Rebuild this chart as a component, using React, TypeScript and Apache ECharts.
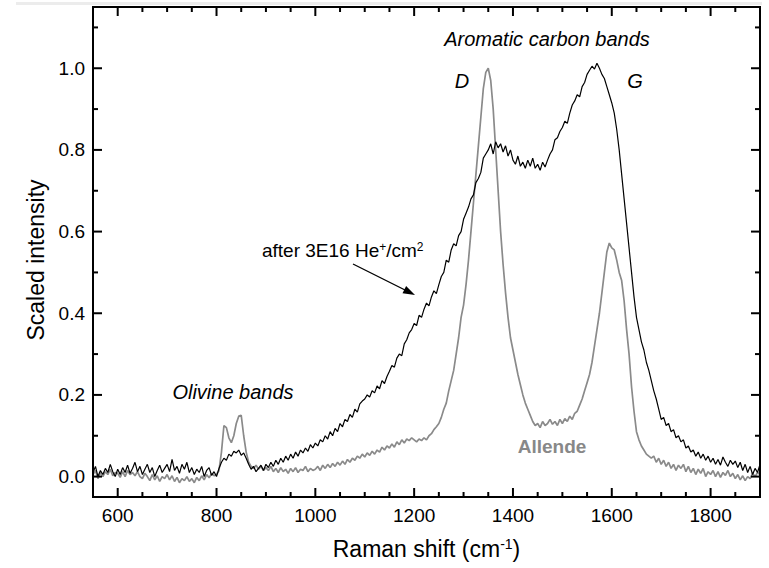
import React, { useEffect, useRef } from "react";
import * as echarts from "echarts";

// Raman shift grid (cm^-1): first point and spacing of the sampled spectra
const RAMAN_START = 550;
const RAMAN_STEP = 5;

// Scaled intensity after 3E16 He+/cm2 irradiation (black)
const IRRADIATED = [
  0.01, 0.025, 0.0, 0.015, 0.005, 0.02, 0.01, 0.03, 0.012, 0.0,
  0.018, 0.005, 0.022, 0.01, 0.028, 0.008, 0.02, 0.035, 0.012, 0.025,
  0.005, 0.018, 0.03, 0.01, 0.022, 0.0, 0.015, 0.028, 0.01, 0.02,
  0.03, 0.012, 0.042, 0.015, 0.025, 0.008, 0.03, 0.018, 0.035, 0.01,
  0.022, 0.005, 0.018, 0.01, 0.025, 0.0, 0.015, 0.022, 0.003, 0.012,
  0.0, 0.02, 0.035, 0.045, 0.04, 0.055, 0.05, 0.062, 0.058, 0.065,
  0.052, 0.058, 0.045, 0.03, 0.018, 0.025, 0.012, 0.02, 0.028, 0.015,
  0.03, 0.022, 0.035, 0.025, 0.04, 0.03, 0.045, 0.035, 0.05, 0.04,
  0.055, 0.045, 0.06, 0.05, 0.065, 0.058, 0.07, 0.062, 0.078, 0.07,
  0.082, 0.075, 0.09, 0.085, 0.1, 0.092, 0.11, 0.1, 0.118, 0.11,
  0.13, 0.122, 0.14, 0.135, 0.152, 0.145, 0.165, 0.158, 0.178, 0.185,
  0.19, 0.2, 0.195, 0.21, 0.205, 0.222, 0.215, 0.235, 0.228, 0.245,
  0.258, 0.272, 0.268, 0.29, 0.3, 0.296, 0.325, 0.335, 0.352, 0.36,
  0.375, 0.37, 0.395, 0.39, 0.41, 0.425, 0.418, 0.44, 0.455, 0.448,
  0.47, 0.49, 0.5, 0.53, 0.525, 0.555, 0.57, 0.565, 0.59, 0.6,
  0.63, 0.645, 0.66, 0.68, 0.69, 0.72, 0.73, 0.745, 0.78, 0.79,
  0.8, 0.815, 0.79, 0.82, 0.805, 0.815, 0.795, 0.81, 0.785, 0.8,
  0.775, 0.765, 0.785, 0.76, 0.77, 0.755, 0.775, 0.76, 0.78, 0.755,
  0.765, 0.75, 0.77, 0.758, 0.775, 0.79, 0.8, 0.825, 0.83, 0.845,
  0.855, 0.87, 0.865, 0.89, 0.91, 0.92, 0.935, 0.93, 0.955, 0.965,
  0.985, 0.995, 1.005, 0.998, 1.012, 1.0, 0.985, 0.975, 0.955, 0.935,
  0.915, 0.89, 0.85, 0.8, 0.74, 0.68, 0.62, 0.56, 0.5, 0.44,
  0.39, 0.36, 0.33, 0.31, 0.28, 0.26, 0.235, 0.21, 0.19, 0.165,
  0.14, 0.145, 0.125, 0.13, 0.11, 0.115, 0.095, 0.1, 0.085, 0.09,
  0.07, 0.075, 0.06, 0.065, 0.05, 0.06, 0.045, 0.055, 0.04, 0.05,
  0.035, 0.045, 0.03, 0.042, 0.028, 0.048, 0.035, 0.025, 0.04, 0.03,
  0.038, 0.022, 0.035, 0.015, 0.03, 0.01, 0.025, 0.005, 0.02, 0.01,
  0.03,
];

// Scaled intensity of pristine Allende (grey)
const ALLENDE = [
  0.005, 0.015, -0.005, 0.01, 0.0, 0.012, 0.005, 0.018, 0.002, 0.01,
  0.008, -0.002, 0.012, 0.0, 0.015, 0.005, 0.01, 0.002, 0.012, 0.0,
  -0.005, 0.008, 0.0, -0.01, 0.005, -0.008, 0.002, -0.012, 0.0, -0.005,
  0.005, -0.008, 0.002, -0.012, -0.002, -0.015, -0.005, -0.01, 0.0, -0.012,
  -0.005, -0.015, -0.002, -0.01, 0.002, -0.008, 0.005, -0.003, 0.008, 0.002,
  0.005, 0.015, 0.06, 0.125, 0.12, 0.095, 0.083, 0.1, 0.13, 0.148,
  0.15, 0.1, 0.06, 0.035, 0.025, 0.02, 0.028, 0.018, 0.025, 0.015,
  0.022, 0.015, 0.025, 0.012, 0.02, 0.01, 0.022, 0.012, 0.018, 0.008,
  0.02, 0.012, 0.022, 0.01, 0.018, 0.015, 0.025, 0.012, 0.02, 0.015,
  0.018, 0.025, 0.015, 0.028, 0.02, 0.03, 0.022, 0.032, 0.025, 0.035,
  0.028, 0.038, 0.03, 0.042, 0.035, 0.045, 0.04, 0.05, 0.045, 0.055,
  0.048, 0.058, 0.052, 0.062, 0.055, 0.065, 0.06, 0.072, 0.065, 0.075,
  0.07, 0.08, 0.072, 0.085, 0.078, 0.09, 0.082, 0.092, 0.088, 0.095,
  0.09, 0.085, 0.092, 0.088, 0.095, 0.09, 0.1, 0.105, 0.115, 0.122,
  0.13, 0.145, 0.165, 0.18, 0.21, 0.235, 0.26, 0.3, 0.34, 0.39,
  0.42, 0.47, 0.53, 0.6, 0.67, 0.74, 0.81, 0.88, 0.95, 0.99,
  1.0, 0.97, 0.9, 0.8, 0.7, 0.6, 0.52, 0.45, 0.39, 0.34,
  0.31, 0.28, 0.25, 0.225, 0.2, 0.18, 0.165, 0.15, 0.135, 0.125,
  0.13, 0.12, 0.135, 0.125, 0.13, 0.14, 0.128, 0.135, 0.125, 0.14,
  0.13, 0.142, 0.135, 0.148, 0.14, 0.155, 0.16, 0.175, 0.19, 0.21,
  0.23, 0.25, 0.28, 0.32, 0.36, 0.4, 0.45, 0.5, 0.55, 0.572,
  0.56, 0.555, 0.53, 0.5, 0.48, 0.43, 0.36, 0.3, 0.22, 0.16,
  0.11, 0.09, 0.075, 0.065, 0.055, 0.05, 0.045, 0.05, 0.035, 0.045,
  0.03, 0.04, 0.025, 0.035, 0.02, 0.03, 0.015, 0.028, 0.02, 0.03,
  0.012, 0.025, 0.01, 0.02, 0.005, 0.018, 0.008, 0.02, 0.0, 0.012,
  0.005, 0.015, 0.0, 0.012, -0.002, 0.01, 0.003, 0.015, 0.0, 0.008,
  -0.005, 0.005, -0.008, 0.002, -0.01, 0.0, -0.005, 0.008, 0.0, 0.01,
  0.005,
];

// Axis range and ticks
const X_MIN = 550;
const X_MAX = 1900;
const Y_MIN = -0.05;
const Y_MAX = 1.15;
const X_MAJOR = [600, 800, 1000, 1200, 1400, 1600, 1800];
const X_MINOR = [650, 700, 750, 850, 900, 950, 1050, 1100, 1150, 1250, 1300, 1350, 1450, 1500, 1550, 1650, 1700, 1750, 1850];
const Y_MAJOR = [0, 0.2, 0.4, 0.6, 0.8, 1.0];
const Y_MINOR = [0.1, 0.3, 0.5, 0.7, 0.9, 1.1];

const FONT = 'Arial, "Liberation Sans", Helvetica, sans-serif';
const MAJOR_LEN = 9;
const MINOR_LEN = 5;

function toPairs(values: number[]) {
  return values.map((v, i) => [RAMAN_START + i * RAMAN_STEP, v]);
}

export default function App() {
  const ref = useRef<HTMLDivElement>(null);

  useEffect(() => {
    if (!ref.current) return;
    const chart = echarts.init(ref.current, null, { renderer: "svg", width: 769, height: 568 });

    const frameStyle = { stroke: "#000", lineWidth: 2, fill: "none" };

    // tick items: [axis (0 = x, 1 = y), value, length]
    const tickItems: number[][] = [
      ...X_MAJOR.map((v) => [0, v, MAJOR_LEN]),
      ...X_MINOR.map((v) => [0, v, MINOR_LEN]),
      ...Y_MAJOR.map((v) => [1, v, MAJOR_LEN]),
      ...Y_MINOR.map((v) => [1, v, MINOR_LEN]),
    ];

    const renderTick = (_params: any, api: any) => {
      const which = api.value(0);
      const v = api.value(1);
      const len = api.value(2);
      const tl = api.coord([X_MIN, Y_MAX]);
      const br = api.coord([X_MAX, Y_MIN]);
      if (which === 0) {
        const x = api.coord([v, Y_MIN])[0];
        return {
          type: "group",
          children: [
            { type: "line", shape: { x1: x, y1: br[1], x2: x, y2: br[1] - len }, style: frameStyle },
            { type: "line", shape: { x1: x, y1: tl[1], x2: x, y2: tl[1] + len }, style: frameStyle },
          ],
        };
      }
      const y = api.coord([X_MIN, v])[1];
      return {
        type: "group",
        children: [
          { type: "line", shape: { x1: tl[0], y1: y, x2: tl[0] + len, y2: y }, style: frameStyle },
          { type: "line", shape: { x1: br[0], y1: y, x2: br[0] - len, y2: y }, style: frameStyle },
        ],
      };
    };

    const renderFrame = (_params: any, api: any) => {
      const tl = api.coord([X_MIN, Y_MAX]);
      const br = api.coord([X_MAX, Y_MIN]);
      return {
        type: "rect",
        shape: { x: tl[0], y: tl[1], width: br[0] - tl[0], height: br[1] - tl[1] },
        style: frameStyle,
      };
    };

    const option: any = {
      animation: false,
      backgroundColor: "#fff",
      grid: {
        left: 93, right: 9, top: 7, bottom: 71, containLabel: false,
        show: true, borderColor: "#000", borderWidth: 2, backgroundColor: "rgba(0,0,0,0)",
      },
      xAxis: {
        type: "value",
        min: X_MIN,
        max: X_MAX,
        splitLine: { show: false },
        axisLine: { show: true, onZero: false, lineStyle: { color: "#000", width: 1.6 } },
        axisTick: { show: false },
        axisLabel: {
          show: true, customValues: X_MAJOR, color: "#000", fontSize: 19, fontFamily: FONT, margin: 9,
          formatter: (v: number) => String(v),
        },
        name: "Raman shift (cm{sup|-1})",
        nameLocation: "middle",
        nameGap: 40,
        nameTextStyle: {
          color: "#000", fontSize: 23, fontFamily: FONT,
          rich: { sup: { fontSize: 14, verticalAlign: "top", color: "#000", fontFamily: FONT } },
        },
      },
      yAxis: {
        type: "value",
        min: Y_MIN,
        max: Y_MAX,
        splitLine: { show: false },
        axisLine: { show: true, onZero: false, lineStyle: { color: "#000", width: 1.6 } },
        axisTick: { show: false },
        axisLabel: {
          show: true, customValues: Y_MAJOR, color: "#000", fontSize: 19, fontFamily: FONT, margin: 8,
          formatter: (v: number) => v.toFixed(1),
        },
        name: "Scaled intensity",
        nameLocation: "middle",
        nameGap: 46,
        nameTextStyle: { color: "#000", fontSize: 23, fontFamily: FONT, padding: [0, 16, 0, 0] },
      },
      series: [
        {
          name: "Allende",
          type: "line",
          data: toPairs(ALLENDE),
          showSymbol: false,
          lineStyle: { color: "#8a8a8a", width: 1.7 },
          z: 2,
        },
        {
          name: "after 3E16 He+/cm2",
          type: "line",
          data: toPairs(IRRADIATED),
          showSymbol: false,
          lineStyle: { color: "#000", width: 1.2 },
          z: 3,
        },
        {
          name: "frame",
          type: "custom",
          silent: true,
          clip: false,
          renderItem: renderFrame,
          data: [[X_MIN, Y_MIN]],
          encode: { x: 0, y: 1 },
          z: 5,
        },
        {
          name: "ticks",
          type: "custom",
          silent: true,
          clip: false,
          renderItem: renderTick,
          data: tickItems,
          encode: { x: 1 },
          z: 5,
        },
      ],
      graphic: [
        { type: "rect", shape: { x: 16, y: 2, width: 746, height: 3 }, style: { fill: "#ececec" }, z: -1 },
        {
          type: "text", x: 547, y: 39,
          style: { text: "Aromatic carbon bands", fontSize: 20, fontStyle: "italic", fontFamily: FONT, fill: "#000", align: "center", verticalAlign: "middle" },
        },
        {
          type: "text", x: 462, y: 81,
          style: { text: "D", fontSize: 20, fontStyle: "italic", fontFamily: FONT, fill: "#000", align: "center", verticalAlign: "middle" },
        },
        {
          type: "text", x: 635, y: 81,
          style: { text: "G", fontSize: 20, fontStyle: "italic", fontFamily: FONT, fill: "#000", align: "center", verticalAlign: "middle" },
        },
        {
          type: "text", x: 233, y: 392,
          style: { text: "Olivine bands", fontSize: 20, fontStyle: "italic", fontFamily: FONT, fill: "#000", align: "center", verticalAlign: "middle" },
        },
        {
          type: "text", x: 262, y: 250,
          style: {
            text: "after 3E16 He{sup|+}/cm{sup|2}", fontSize: 19, fontFamily: FONT, fill: "#000", align: "left", verticalAlign: "middle",
            rich: { sup: { fontSize: 12, verticalAlign: "top", fontFamily: FONT, fill: "#000" } },
          },
        },
        {
          type: "text", x: 552, y: 446,
          style: { text: "Allende", fontSize: 19, fontWeight: "bold", fontFamily: FONT, fill: "#888", align: "center", verticalAlign: "middle" },
        },
        { type: "line", shape: { x1: 353, y1: 264, x2: 406, y2: 290.5 }, style: { stroke: "#000", lineWidth: 1.3 } },
        { type: "polygon", shape: { points: [[415, 295], [402.5, 293.2], [406.1, 286.0]] }, style: { fill: "#000" } },
      ],
    };

    chart.setOption(option);
    return () => chart.dispose();
  }, []);

  return <div ref={ref} style={{ position: "absolute", left: 0, top: 0, width: 769, height: 568, background: "#fff" }} />;
}
